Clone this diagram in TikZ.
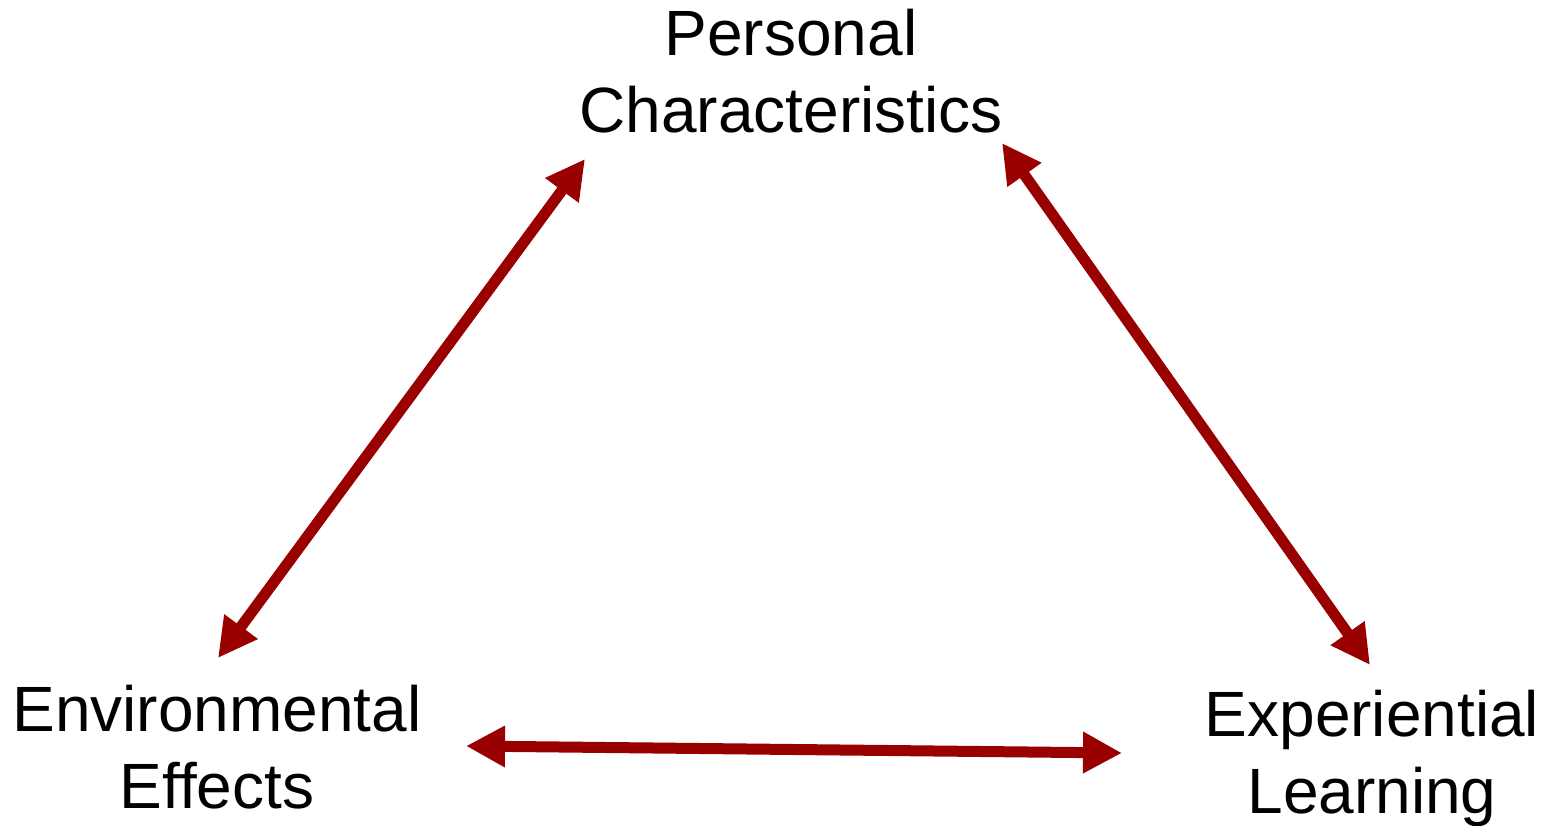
\documentclass[tikz,border=0pt]{standalone}
\usepackage{fontspec}
\setmainfont{Liberation Sans}
\usetikzlibrary{arrows.meta}
\definecolor{linkred}{RGB}{153,0,0}
\begin{document}
\begin{tikzpicture}[x=1pt,y=-1pt,
  label/.style={align=center,anchor=base,inner sep=0pt,
    font=\fontsize{64}{77}\selectfont},
  link/.style={linkred,line width=11pt,
    {Triangle[length=39pt,width=39pt]}-{Triangle[length=39pt,width=39pt]}}]
  \useasboundingbox (0,0) rectangle (1549,826);

  % the three factors (anchored on the baseline of the last line)
  \node[label] (pc) at (791,133) {Personal\\Characteristics};
  \node[label] (ee) at (217,808) {Environmental\\Effects};
  \node[label] (el) at (1372,813) {Experiential\\Learning};

  % arrow end points
  \coordinate (pcL) at (585,159);
  \coordinate (eeT) at (218,658);
  \coordinate (pcR) at (1002,143);
  \coordinate (elT) at (1370,665);
  \coordinate (eeR) at (466,746);
  \coordinate (elL) at (1122,753);

  % reciprocal influences
  \draw[link] (eeT) -- (pcL);
  \draw[link] (pcR) -- (elT);
  \draw[link] (eeR) -- (elL);
\end{tikzpicture}
\end{document}
